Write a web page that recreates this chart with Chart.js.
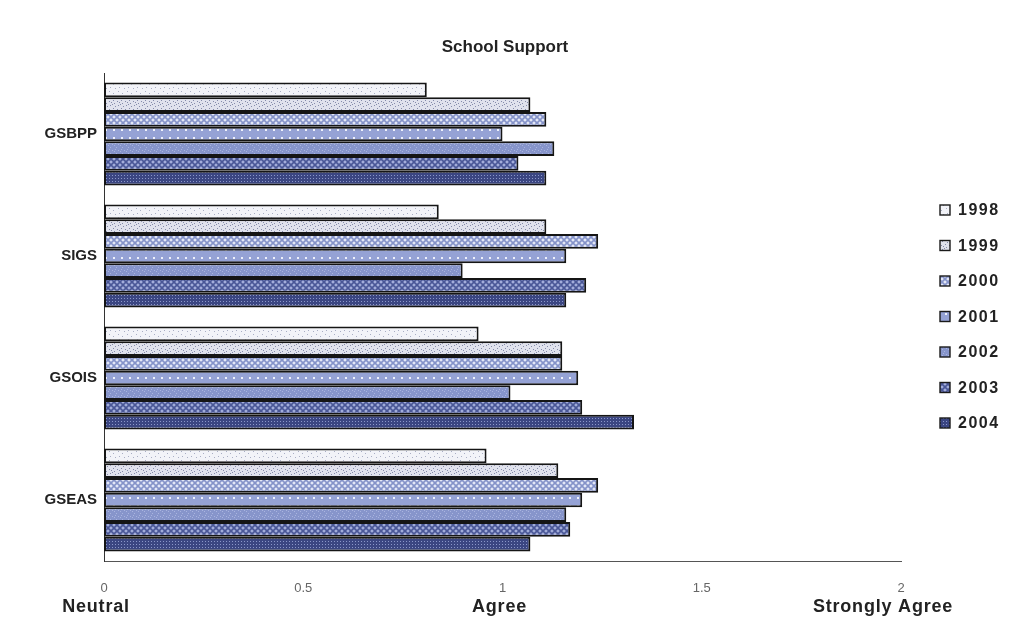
<!DOCTYPE html>
<html>
<head>
<meta charset="utf-8">
<title>School Support</title>
<script src="https://cdn.jsdelivr.net/npm/chart.js@4.4.1/dist/chart.umd.min.js"></script>
<style>
  html, body { margin: 0; padding: 0; background: #ffffff; }
  #wrap { position: relative; width: 1013px; height: 626px; }
</style>
</head>
<body>
<div id="wrap"><canvas id="chart" width="1013" height="626"></canvas></div>
<script>
// Survey measures (mean rating: 0 = Neutral, 1 = Agree, 2 = Strongly Agree)
const categories = ['GSBPP', 'SIGS', 'GSOIS', 'GSEAS'];
const years = ['1998', '1999', '2000', '2001', '2002', '2003', '2004'];

const v1998 = [0.81, 0.84, 0.94, 0.96];
const v1999 = [1.07, 1.11, 1.15, 1.14];
const v2000 = [1.11, 1.24, 1.15, 1.24];
const v2001 = [1.00, 1.16, 1.19, 1.20];
const v2002 = [1.13, 0.90, 1.02, 1.16];
const v2003 = [1.04, 1.21, 1.20, 1.17];
const v2004 = [1.11, 1.16, 1.33, 1.07];
const seriesValues = [v1998, v1999, v2000, v2001, v2002, v2003, v2004];

const xTicks = [0, 0.5, 1, 1.5, 2];
const anchorLabels = ['Neutral', 'Agree', 'Strongly Agree'];
const anchorValues = [0, 1, 2];
const anchorNudge = [-8, -3, -18];

// ---- fill textures for each year ----
function tile(size, paint) {
  const c = document.createElement('canvas');
  c.width = size; c.height = size;
  const g = c.getContext('2d');
  paint(g, size);
  return g.createPattern(c, 'repeat');
}
function speckle(base, dot, pts, size) {
  return tile(size, (g, s) => {
    g.fillStyle = base; g.fillRect(0, 0, s, s);
    g.fillStyle = dot;
    pts.forEach(p => g.fillRect(p[0], p[1], 1, 1));
  });
}
function lattice(light, dark, size) {
  return tile(size, (g, s) => {
    g.fillStyle = light; g.fillRect(0, 0, s, s);
    g.strokeStyle = dark; g.lineWidth = 1.6;
    g.beginPath();
    g.moveTo(0, 0); g.lineTo(s, s);
    g.moveTo(s, 0); g.lineTo(0, s);
    g.stroke();
  });
}
function dotted(base, dot, size, r) {
  return tile(size, (g, s) => {
    g.fillStyle = base; g.fillRect(0, 0, s, s);
    g.fillStyle = dot;
    g.fillRect(1, 1, r, r);
  });
}

const fills = [
  speckle('#f2f3f8', '#a9aec4', [[1,1],[5,3],[2,6],[7,7]], 9),
  speckle('#e0e2ed', '#858baa', [[0,0],[3,2],[6,1],[1,4],[5,5],[2,7],[7,6]], 8),
  lattice('#e4e8f7', '#8593c9', 6),
  dotted('#95a2d5', '#eef1fb', 8, 2),
  speckle('#8795cb', '#a9b4df', [[0,1],[2,3],[4,0],[1,5]], 6),
  lattice('#a4aedb', '#4a5797', 6),
  dotted('#3b4682', '#8a96c9', 3, 1)
];

const datasets = years.map((y, i) => ({
  label: y,
  data: seriesValues[i],
  backgroundColor: fills[i],
  borderColor: '#151515',
  borderWidth: 2,
  borderSkipped: false,
  barPercentage: 1.0,
  categoryPercentage: 0.845
}));

// Title, anchor captions and legend drawn on the canvas
const decorations = {
  id: 'decorations',
  afterDraw(chart) {
    const ctx = chart.ctx;
    const xs = chart.scales.x;
    ctx.save();
    ctx.fillStyle = '#222222';
    ctx.textBaseline = 'middle';

    // title
    ctx.font = 'bold 17px "Liberation Sans", Arial, sans-serif';
    ctx.textAlign = 'center';
    ctx.fillText('School Support', 505, 47);

    // rating captions under the value ticks
    ctx.font = 'bold 18px "Liberation Sans", Arial, sans-serif';
    ctx.letterSpacing = '0.8px';
    anchorLabels.forEach((t, i) => {
      const px = xs.getPixelForValue(anchorValues[i]);
      ctx.fillText(t, px + anchorNudge[i], 607);
    });

    // legend
    ctx.textAlign = 'left';
    ctx.font = 'bold 16px "Liberation Sans", Arial, sans-serif';
    ctx.letterSpacing = '1.5px';
    years.forEach((y, i) => {
      const cy = 210 + i * 35.5;
      ctx.fillStyle = fills[i];
      ctx.fillRect(940, cy - 5, 10, 10);
      ctx.strokeStyle = '#1a1a1a';
      ctx.lineWidth = 1.4;
      ctx.strokeRect(940, cy - 5, 10, 10);
      ctx.fillStyle = '#222222';
      ctx.fillText(y, 958, cy + 1);
    });
    ctx.restore();
  }
};

new Chart(document.getElementById('chart'), {
  type: 'bar',
  data: { labels: categories, datasets },
  options: {
    indexAxis: 'y',
    responsive: false,
    animation: false,
    layout: { padding: { top: 73, right: 112, bottom: 0, left: 0 } },
    plugins: {
      legend: { display: false },
      title: { display: false },
      tooltip: { enabled: false }
    },
    scales: {
      x: {
        type: 'linear',
        min: 0,
        max: 2,
        afterBuildTicks(scale) { scale.ticks = xTicks.map(v => ({ value: v })); },
        afterFit(scale) { scale.height = 65; },
        grid: { display: false, drawTicks: false },
        border: { display: true, color: '#555555', width: 1 },
        ticks: {
          padding: 20,
          color: '#666666',
          font: { family: '"Liberation Sans", Arial, sans-serif', size: 13 },
          callback: v => String(v)
        }
      },
      y: {
        afterFit(scale) { scale.width = 104; },
        grid: { display: false, drawTicks: false },
        border: { display: true, color: '#333333', width: 1 },
        ticks: {
          padding: 7,
          color: '#222222',
          font: { family: '"Liberation Sans", Arial, sans-serif', size: 15, weight: 'bold' }
        }
      }
    }
  },
  plugins: [decorations]
});
</script>
</body>
</html>
